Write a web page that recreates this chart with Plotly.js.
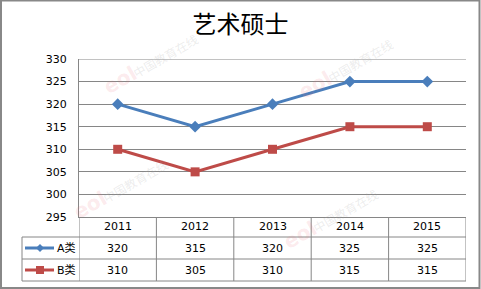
<!DOCTYPE html>
<html>
<head>
<meta charset="utf-8">
<script src="https://cdn.plot.ly/plotly-3.0.1.min.js"></script>
<style>
html,body{margin:0;padding:0;background:#fff;}
#chart{width:481px;height:289px;}
</style>
</head>
<body>
<div id="chart"></div>
<script>
const title = "艺术硕士";
const categories = ["2011", "2012", "2013", "2014", "2015"];
const seriesNames = ["A类", "B类"];
const seriesA = [320, 315, 320, 325, 325];
const seriesB = [310, 305, 310, 315, 315];
const yTicks = [295, 300, 305, 310, 315, 320, 325, 330];

const colors = ["#4a7ebb", "#be4b48"];
const symbols = ["diamond", "square"];
const allSeries = [seriesA, seriesB];

const W = 481, H = 289;
const L = 79, R = 15, T = 59, B = 72;
const pw = W - L - R, ph = H - T - B;
const px = v => (v - L) / pw;           // pixel x -> paper
const py = v => (H - B - v) / ph;       // pixel y -> paper

const font = "DejaVu Sans, Noto Sans CJK SC, sans-serif";
const grey = "#868686";

const traces = allSeries.map((vals, i) => ({
  type: "scatter",
  mode: "lines+markers",
  x: categories.map((c, k) => k),
  y: vals,
  name: seriesNames[i],
  line: {color: colors[i], width: 3},
  marker: {symbol: symbols[i], size: 9, color: colors[i]},
  hoverinfo: "none"
}));

const shapes = [];
const annotations = [];
const n = categories.length;

// top line at 330
shapes.push({type: "line", xref: "x", yref: "y", x0: -0.5, x1: n - 0.5, y0: 330, y1: 330, line: {color: grey, width: 1}});

// table lines
for (let i = 0; i <= n; i++) {
  shapes.push({type: "line", xref: "x", yref: "paper", x0: i - 0.5, x1: i - 0.5, y0: py(217), y1: py(281), line: {color: grey, width: 1}});
}
shapes.push({type: "line", xref: "paper", yref: "paper", x0: px(22), x1: px(22), y0: py(237), y1: py(281), line: {color: grey, width: 1}});
[237, 259, 281].forEach(yy => {
  shapes.push({type: "line", xref: "paper", yref: "paper", x0: px(22), x1: 1, y0: py(yy), y1: py(yy), line: {color: grey, width: 1}});
});

// outer border
shapes.push({type: "rect", xref: "paper", yref: "paper", x0: px(1), x1: px(479.5), y0: py(288), y1: py(0.5), line: {color: "#888888", width: 2}});

const cell = (x, y, text, xref, xanchor) => ({
  xref: xref || "x", yref: "paper", x: x, y: y, text: text, showarrow: false,
  xanchor: xanchor || "center", yanchor: "middle",
  font: {family: font, size: 11, color: "#000"}
});

// header row
categories.forEach((c, k) => annotations.push(cell(k, py(227), c)));
// data rows
const rowCenters = [248, 270];
allSeries.forEach((vals, i) => {
  vals.forEach((v, k) => annotations.push(cell(k, py(rowCenters[i]), String(v))));
  // legend key
  shapes.push({type: "line", xref: "paper", yref: "paper", x0: px(25), x1: px(54), y0: py(rowCenters[i]), y1: py(rowCenters[i]), line: {color: colors[i], width: 3}});
  const path = i === 0 ? "M -4 0 L 0 4 L 4 0 L 0 -4 Z" : "M -4 -4 L 4 -4 L 4 4 L -4 4 Z";
  shapes.push({type: "path", xref: "paper", yref: "paper", xsizemode: "pixel", ysizemode: "pixel", xanchor: px(40), yanchor: py(rowCenters[i]), path: path, fillcolor: colors[i], line: {color: colors[i], width: 0}});
  annotations.push(cell(px(55), py(rowCenters[i]), seriesNames[i], "paper", "left"));
});

// faint watermarks
const wm = [[165, 55], [360, 60], [135, 180], [345, 210]];
wm.forEach(([x, y]) => {
  annotations.push({xref: "paper", yref: "paper", x: px(x), y: py(y), xanchor: "center", yanchor: "middle", text: "中国教育在线", showarrow: false, textangle: -30, font: {family: "Noto Sans CJK SC", size: 12, color: "rgba(170,170,170,0.22)"}});
  annotations.push({xref: "paper", yref: "paper", x: px(x - 45), y: py(y + 25), xanchor: "center", yanchor: "middle", text: "<b>eol</b>", showarrow: false, textangle: -30, font: {family: "DejaVu Sans", size: 20, color: "rgba(235,110,120,0.15)"}});
});

const layout = {
  width: W, height: H,
  margin: {l: L, r: R, t: T, b: B, pad: 0},
  paper_bgcolor: "#fff", plot_bgcolor: "#fff",
  showlegend: false,
  title: {text: title, x: 0.5, xref: "container", xanchor: "center", y: 1 - 25 / H, yref: "container", yanchor: "middle", font: {family: "Noto Sans CJK SC", size: 24, color: "#000"}},
  xaxis: {
    range: [-0.5, n - 0.5], showgrid: false, zeroline: false, showticklabels: false, ticks: "",
    showline: true, linecolor: grey, linewidth: 1, fixedrange: true
  },
  yaxis: {
    range: [295, 330], tickvals: yTicks, ticktext: yTicks.map(String), showgrid: true, gridcolor: grey, gridwidth: 1,
    zeroline: false, showline: true, linecolor: grey, linewidth: 1,
    ticks: "outside", ticklen: 9, tickcolor: "rgba(0,0,0,0)",
    tickfont: {family: font, size: 11, color: "#000"}, fixedrange: true
  },
  shapes: shapes,
  annotations: annotations
};

Plotly.newPlot("chart", traces, layout, {staticPlot: true, displayModeBar: false});
</script>
</body>
</html>
